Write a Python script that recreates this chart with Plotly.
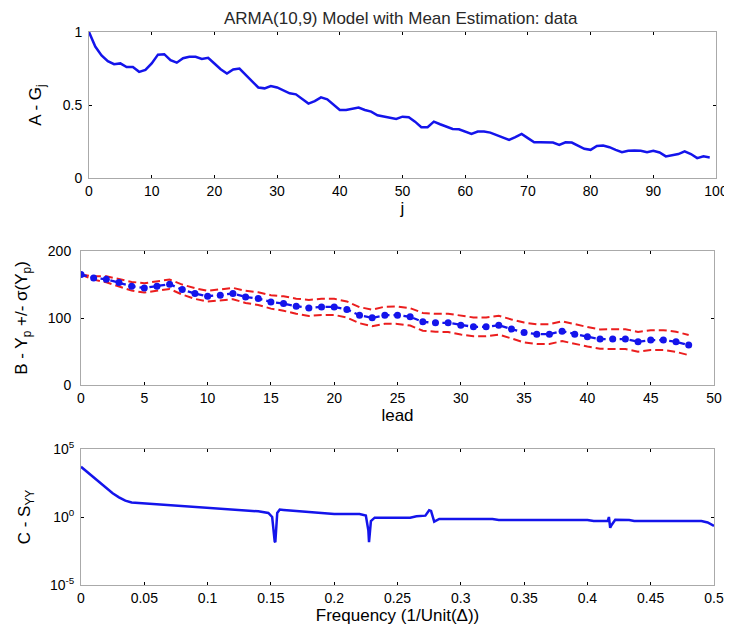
import plotly.graph_objects as go

# Page is 732x633; the HTML body adds an 8px margin, so the figure is drawn
# offset by 8px. Layout positions below are given in page pixels.
PAGE_W, PAGE_H = 732, 633
OFF = 8
W, H = PAGE_W - OFF, PAGE_H - OFF

# ---------------- Panel A data ----------------
lag_j = list(range(100))
G_j = [1.0, 0.90, 0.84, 0.80, 0.78, 0.785, 0.76, 0.76, 0.727, 0.74,
       0.785, 0.845, 0.848, 0.807, 0.79, 0.82, 0.83, 0.83, 0.816, 0.823,
       0.784, 0.745, 0.716, 0.743, 0.75, 0.705, 0.66, 0.62, 0.614, 0.63,
       0.62, 0.60, 0.58, 0.573, 0.54, 0.51, 0.527, 0.552, 0.539, 0.50,
       0.466, 0.466, 0.473, 0.482, 0.466, 0.455, 0.43, 0.42, 0.414, 0.405,
       0.42, 0.416, 0.386, 0.348, 0.348, 0.386, 0.368, 0.352, 0.336, 0.334,
       0.318, 0.302, 0.318, 0.318, 0.311, 0.295, 0.277, 0.261, 0.28, 0.302,
       0.273, 0.245, 0.245, 0.245, 0.243, 0.227, 0.245, 0.243, 0.22, 0.20,
       0.193, 0.22, 0.223, 0.211, 0.193, 0.177, 0.186, 0.189, 0.186, 0.177,
       0.186, 0.175, 0.148, 0.155, 0.164, 0.182, 0.164, 0.136, 0.148, 0.141]

# ---------------- Panel B data ----------------
lead = list(range(49))
Yp = [164.8, 159.8, 157.8, 152.9, 147.4, 144.9, 147.4, 150.4, 142.4, 136.5,
      132.5, 134.0, 136.5, 131.5, 129.0, 124.0, 121.6, 117.6, 115.0, 116.6,
      116.6, 112.7, 104.2, 100.2, 104.2, 104.2, 101.7, 94.3, 92.8, 92.8,
      89.3, 86.8, 86.8, 89.3, 83.4, 78.4, 75.9, 75.9, 80.4, 75.9,
      72.0, 68.5, 68.5, 68.5, 64.5, 67.0, 67.0, 64.5, 59.6]
sigma_Yp = [0.0, 2.5, 4.5, 5.5, 6.5, 7.0, 7.0, 7.0, 7.5, 8.0,
            8.0, 8.3, 8.5, 9.0, 9.5, 10.0, 10.7, 11.3, 12.0, 12.0,
            12.0, 12.0, 12.0, 12.3, 12.7, 13.0, 13.0, 13.2, 13.4, 13.6,
            14.0, 14.0, 14.0, 14.0, 14.4, 14.8, 14.8, 14.8, 14.8, 14.6,
            14.5, 14.5, 14.6, 14.8, 14.8, 14.8, 14.8, 15.0, 15.0]

# ---------------- Panel C data ----------------
freq = [0.0, 0.005, 0.01, 0.015, 0.02, 0.025, 0.03, 0.035, 0.04, 0.05,
        0.07, 0.1, 0.12, 0.14, 0.148, 0.151, 0.153, 0.1535, 0.155, 0.157,
        0.16, 0.18, 0.2, 0.22, 0.225, 0.227, 0.2275, 0.229, 0.232, 0.26,
        0.265, 0.272, 0.275, 0.2765, 0.279, 0.283, 0.3, 0.325, 0.33, 0.4,
        0.405, 0.416, 0.417, 0.418, 0.419, 0.422, 0.433, 0.437, 0.49, 0.495,
        0.5]
S_YY = [4900, 2000, 790, 290, 126, 56, 28, 15.8, 11.7, 10.0,
        7.9, 4.8, 3.5, 2.6, 2.0, 1.0, 0.016, 0.014, 2.0, 3.5,
        3.3, 2.2, 1.66, 1.66, 1.26, 0.10, 0.014, 0.5, 0.89, 0.89,
        1.12, 1.26, 3.16, 2.8, 0.45, 0.71, 0.71, 0.71, 0.60, 0.60,
        0.50, 0.50, 1.0, 0.16, 0.25, 0.63, 0.60, 0.50, 0.50, 0.40,
        0.22]

BLUE = "rgb(20,20,235)"
RED = "rgb(235,30,30)"
FONT = "Liberation Sans, Arial, sans-serif"

upper = [y + s for y, s in zip(Yp, sigma_Yp)]
lower = [y - s for y, s in zip(Yp, sigma_Yp)]

fig = go.Figure()
fig.add_trace(go.Scatter(x=lag_j, y=G_j, mode="lines", line=dict(color=BLUE, width=2.5),
                         xaxis="x", yaxis="y", showlegend=False))
fig.add_trace(go.Scatter(x=lead, y=upper, mode="lines", line=dict(color=RED, width=2, dash="8px,4px"),
                         xaxis="x2", yaxis="y2", showlegend=False))
fig.add_trace(go.Scatter(x=lead, y=lower, mode="lines", line=dict(color=RED, width=2, dash="8px,4px"),
                         xaxis="x2", yaxis="y2", showlegend=False))
fig.add_trace(go.Scatter(x=lead, y=Yp, mode="lines+markers", line=dict(color=BLUE, width=2.3, dash="6px,4px"),
                         marker=dict(color=BLUE, size=7), xaxis="x2", yaxis="y2", showlegend=False))
fig.add_trace(go.Scatter(x=freq, y=S_YY, mode="lines", line=dict(color=BLUE, width=2.5),
                         xaxis="x3", yaxis="y3", showlegend=False))

def px_x(p):
    return (p - OFF) / W

def px_y(p):
    return 1 - (p - OFF) / H

def dom_x(a, b):
    return [px_x(a), px_x(b)]

def dom_y(top, bottom):
    return [px_y(bottom), px_y(top)]

ax_common = dict(showline=True, linecolor="rgb(170,170,170)", linewidth=1, mirror="ticks",
                 ticks="inside", ticklen=3, tickcolor="black", tickwidth=1,
                 showgrid=False, zeroline=False, automargin=False,
                 tickfont=dict(family=FONT, size=14, color="black"))

fig.update_layout(
    template="none",
    width=W, height=H, margin=dict(l=0, r=0, t=0, b=0, pad=0),
    paper_bgcolor="white", plot_bgcolor="white",
    font=dict(family=FONT, size=14, color="black"),
    xaxis=dict(domain=dom_x(89, 716), range=[0, 100], tickvals=list(range(0, 101, 10)),
               title=dict(text="j", standoff=2), anchor="y", **ax_common),
    yaxis=dict(domain=dom_y(32, 178), range=[0, 1], tickvals=[0, 0.5, 1], ticklabelstandoff=3,
               title=dict(text="A - G<sub>j</sub>", standoff=16), anchor="x", **ax_common),
    xaxis2=dict(domain=dom_x(81, 714), range=[0, 50], tickvals=list(range(0, 51, 5)),
                title=dict(text="lead", standoff=2), anchor="y2", **ax_common),
    yaxis2=dict(domain=dom_y(251, 385), range=[0, 200], tickvals=[0, 100, 200], ticklabelstandoff=6,
                title=dict(text="B - Y<sub>p</sub> +/- σ(Y<sub>p</sub>)", standoff=15), anchor="x2", **ax_common),
    xaxis3=dict(domain=dom_x(81, 714), range=[0, 0.5],
                tickvals=[0, 0.05, 0.1, 0.15, 0.2, 0.25, 0.3, 0.35, 0.4, 0.45, 0.5],
                ticktext=["0", "0.05", "0.1", "0.15", "0.2", "0.25", "0.3", "0.35", "0.4", "0.45", "0.5"],
                title=dict(text="Frequency (1/Unit(Δ))", standoff=2), anchor="y3", **ax_common),
    yaxis3=dict(domain=dom_y(449, 585), type="log", range=[-5, 5], tickvals=[1e-5, 1, 1e5],
                ticktext=["10<sup>-5</sup>", "10<sup>0</sup>", "10<sup>5</sup>"], ticklabelstandoff=3,
                title=dict(text="C - S<sub>YY</sub>", standoff=14), anchor="x3", **ax_common),
    annotations=[dict(text="ARMA(10,9) Model with Mean Estimation: data", x=px_x(401), y=px_y(8),
                      xref="paper", yref="paper", showarrow=False,
                      font=dict(family=FONT, size=17, color="rgb(40,40,40)"),
                      xanchor="center", yanchor="top", borderpad=0)],
)

fig.write_html("out.html")
